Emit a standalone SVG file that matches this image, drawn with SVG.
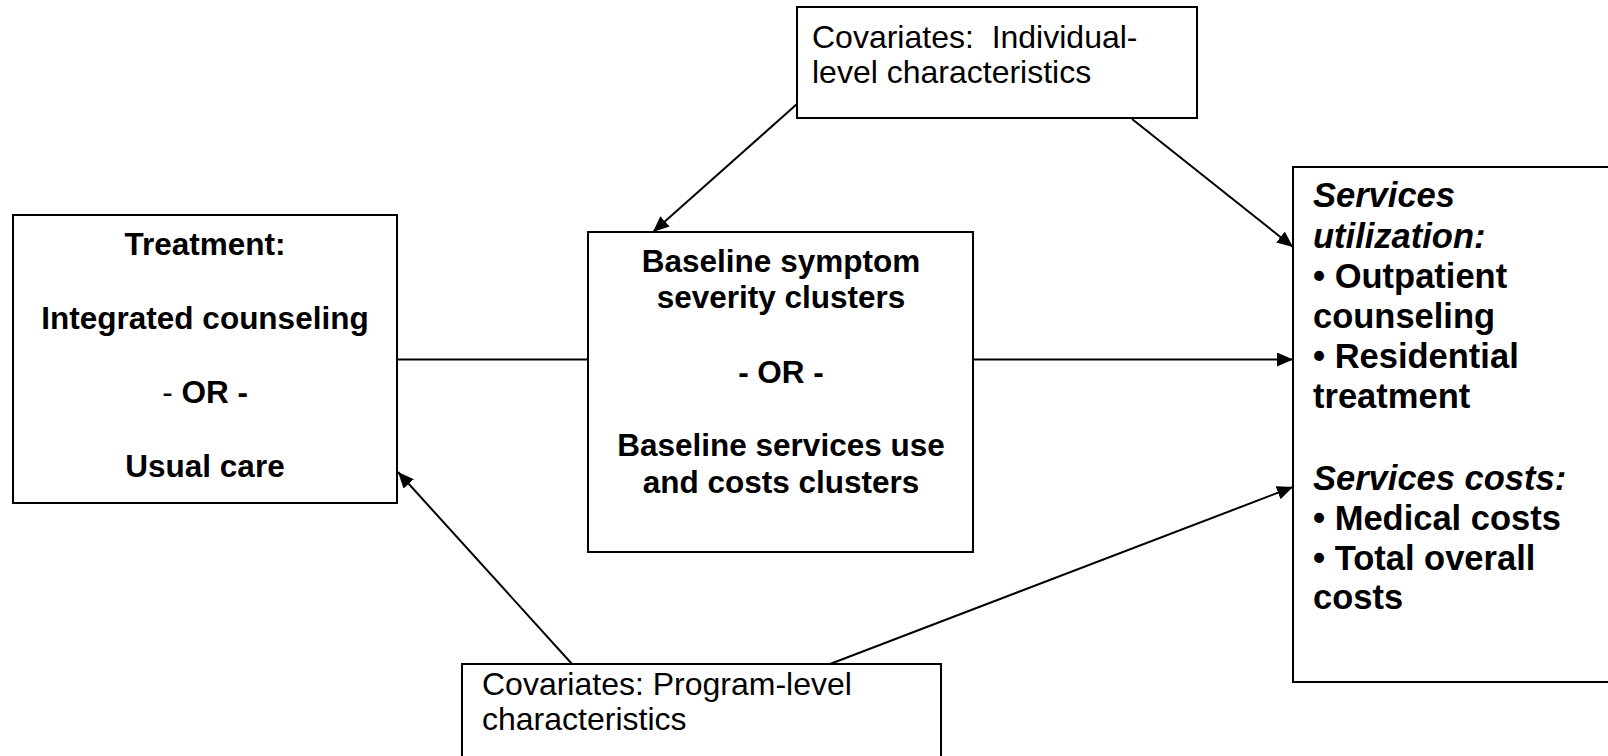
<svg xmlns="http://www.w3.org/2000/svg" width="1608" height="756" viewBox="0 0 1608 756">
<style>
.box{fill:#fff;stroke:#000;stroke-width:2}
.b{font-family:"Liberation Sans",Arial,sans-serif;font-weight:bold;font-size:31.5px;fill:#000}
.r{font-family:"Liberation Sans",Arial,sans-serif;font-size:32px;fill:#000}
.rb{font-family:"Liberation Sans",Arial,sans-serif;font-weight:bold;font-size:34.5px;fill:#000}
.c{text-anchor:middle}
.edge{stroke:#000;stroke-width:2;fill:none}
</style>
<defs>
<marker id="arr" markerUnits="userSpaceOnUse" markerWidth="16" markerHeight="14" refX="16" refY="7" orient="auto">
<path d="M0,0 L16,7 L0,14 z" fill="#000"/>
</marker>
</defs>
<rect width="1608" height="756" fill="#fff"/>
<g id="connectors">
<line class="edge" x1="797" y1="104" x2="653" y2="232" marker-end="url(#arr)"/>
<line class="edge" x1="1132" y1="119" x2="1293" y2="247" marker-end="url(#arr)"/>
<line class="edge" x1="397" y1="359.5" x2="588" y2="359.5"/>
<line class="edge" x1="973" y1="359.5" x2="1293" y2="359.5" marker-end="url(#arr)"/>
<line class="edge" x1="572" y1="664" x2="398" y2="472" marker-end="url(#arr)"/>
<line class="edge" x1="830" y1="664" x2="1293" y2="487" marker-end="url(#arr)"/>
</g>
<g id="treatment">
<rect class="box" x="13" y="215" width="384" height="288"/>
<text class="b c" x="205" y="255">Treatment:</text>
<text class="b c" x="205" y="329">Integrated counseling</text>
<text class="b c" x="205" y="403"><tspan font-weight="normal">-</tspan> OR -</text>
<text class="b c" x="205" y="477">Usual care</text>
</g>
<g id="baseline">
<rect class="box" x="588" y="232" width="385" height="320"/>
<text class="b c" x="781" y="272">Baseline symptom</text>
<text class="b c" x="781" y="308">severity clusters</text>
<text class="b c" x="781" y="383">- OR -</text>
<text class="b c" x="781" y="456">Baseline services use</text>
<text class="b c" x="781" y="493">and costs clusters</text>
</g>
<g id="outcomes">
<rect class="box" x="1293" y="167" width="330" height="515"/>
<text class="rb" x="1313" y="207" font-style="italic">Services</text>
<text class="rb" x="1313" y="248" font-style="italic">utilization:</text>
<text class="rb" x="1313" y="288">• Outpatient</text>
<text class="rb" x="1313" y="328">counseling</text>
<text class="rb" x="1313" y="368">• Residential</text>
<text class="rb" x="1313" y="408">treatment</text>
<text class="rb" x="1313" y="490" font-style="italic">Services costs:</text>
<text class="rb" x="1313" y="530">• Medical costs</text>
<text class="rb" x="1313" y="570">• Total overall</text>
<text class="rb" x="1313" y="609">costs</text>
</g>
<g id="individual">
<rect class="box" x="797" y="7" width="400" height="111"/>
<text class="r" x="812" y="48" xml:space="preserve">Covariates:  Individual-</text>
<text class="r" x="812" y="83">level characteristics</text>
</g>
<g id="program">
<rect class="box" x="462" y="664" width="479" height="110"/>
<text class="r" x="482" y="695">Covariates: Program-level</text>
<text class="r" x="482" y="730">characteristics</text>
</g>
</svg>
